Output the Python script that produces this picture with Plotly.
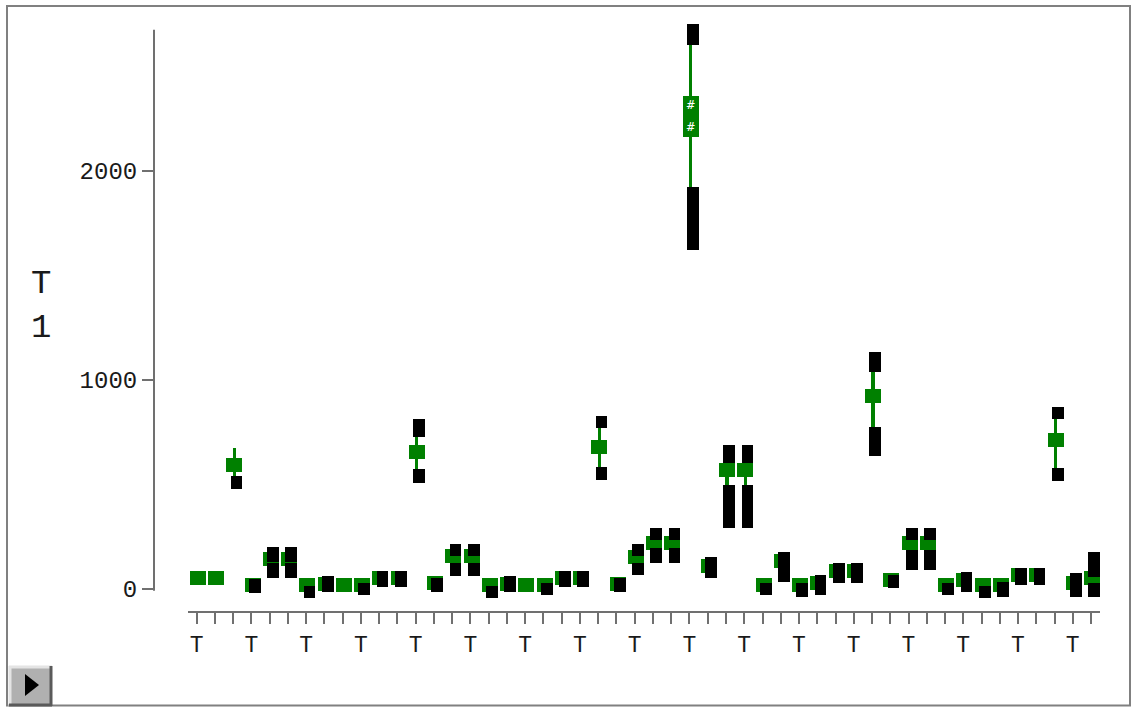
import plotly.graph_objects as go

# Category positions along the x axis and their tick labels
categories = list(range(50))
tick_text = ["T", "", "", "T", "", "", "T", "", "", "T", "", "", "T", "", "", "T", "", "",
             "T", "", "", "T", "", "", "T", "", "", "T", "", "", "T", "", "", "T", "", "",
             "T", "", "", "T", "", "", "T", "", "", "T", "", "", "T", ""]

# Mean of each category (green box)
means = [55, 55, 593, 17, 144, 144, 19, 26, 19, 19,
         55, 55, 655, 29, 158, 158, 19, 24, 17, 17,
         53, 53, 677, 26, 155, 218, 218, 2261, 108, 567,
         567, 19, 134, 19, 31, 84, 84, 923, 41, 218,
         218, 19, 43, 19, 19, 67, 67, 713, 29, 55]

# Spread bars (green whiskers): category -> (low, high)
spread = {2: (510, 675), 12: (545, 761), 22: (555, 799), 27: (1885, 2627),
          29: (474, 665), 30: (474, 665), 37: (751, 1072), 47: (550, 842)}

# Overlapping means on one category widen the box
mean_band = {27: (2163, 2359)}

# Individual observations (black squares)
points = [[], [], [510], [19, 10], [172, 158, 96, 81], [172, 158, 96, 81], [-14], [33, 14], [], [0],
          [57, 38], [57, 38], [785, 756, 545, 536], [24, 14], [187, 96, 91], [187, 96, 91], [-14], [33, 14], [], [0],
          [57, 38], [57, 38], [799, 553], [24, 14], [187, 96], [263, 167, 153], [263, 167, 153],
          [2675, 2632, 1895, 1842, 1789, 1737, 1684, 1651], [124, 81], [660, 632, 469, 416, 364, 321],
          [660, 632, 469, 416, 364, 321], [0], [148, 105, 62], [0, -10], [38, 0], [96, 57], [96, 57],
          [1105, 1067, 746, 708, 665], [36], [263, 158, 120],
          [263, 158, 120], [0], [53, 14], [-14], [5, -10], [72, 48], [72, 48], [842, 548], [48, -10],
          [148, 115, 86, 0, -10]]

GREEN = "#008000"
BOX_H = 67      # mean box height in data units
PT_H = 59       # observation square height in data units

fig = go.Figure()

# green whiskers
sx = list(spread.keys())
fig.add_trace(go.Bar(x=sx, base=[spread[k][0] for k in sx],
                     y=[spread[k][1] - spread[k][0] for k in sx],
                     width=0.18, offset=-0.03, marker=dict(color=GREEN, line=dict(width=0)),
                     showlegend=False, hoverinfo="skip"))

# green mean boxes
bb, bh = [], []
for k, m in zip(categories, means):
    if k in mean_band:
        lo, hi = mean_band[k]
    else:
        lo, hi = m - BOX_H / 2, m + BOX_H / 2
    bb.append(lo)
    bh.append(hi - lo)
fig.add_trace(go.Bar(x=categories, base=bb, y=bh, width=0.88, offset=-0.38,
                     marker=dict(color=GREEN, line=dict(width=0)),
                     showlegend=False, hoverinfo="skip"))

# black observation squares
px_, pb = [], []
for k, pts in zip(categories, points):
    for v in pts:
        px_.append(k)
        pb.append(v - PT_H / 2)
fig.add_trace(go.Bar(x=px_, base=pb, y=[PT_H] * len(px_), width=0.64, offset=-0.14,
                     marker=dict(color="black", line=dict(width=0)),
                     showlegend=False, hoverinfo="skip"))

# overlap marks inside the widened box
for k, (lo, hi) in mean_band.items():
    fig.add_trace(go.Scatter(x=[k + 0.06, k + 0.06], y=[lo + 0.75 * (hi - lo), lo + 0.22 * (hi - lo)],
                             mode="text", text=["#", "#"],
                             textfont=dict(color="white", size=13, family="DejaVu Sans Mono"),
                             showlegend=False, hoverinfo="skip"))

L, R, T, B = 154, 1110, 15, 612
W, H = R - L, B - T


def xp(px):
    return (px - L) / W


def yp(py):
    return (B - py) / H


shapes = [
    # outer frame
    dict(type="rect", xref="paper", yref="paper", x0=xp(7), x1=xp(1130), y0=yp(705.5), y1=yp(6),
         line=dict(color="#808080", width=2), fillcolor="rgba(0,0,0,0)", layer="below"),
    # y axis line
    dict(type="line", xref="paper", yref="y", x0=0, x1=0, y0=-8, y1=2675,
         line=dict(color="#707070", width=2)),
    # x axis line
    dict(type="line", xref="paper", yref="paper", x0=xp(188), x1=xp(1100), y0=0, y1=0,
         line=dict(color="#707070", width=2)),
    # play button
    dict(type="rect", xref="paper", yref="paper", x0=xp(9), x1=xp(52), y0=yp(706), y1=yp(666),
         line=dict(width=0), fillcolor="#b0b0b0"),
    dict(type="line", xref="paper", yref="paper", x0=xp(9), x1=xp(52), y0=yp(667), y1=yp(667),
         line=dict(color="#e4e4e4", width=3)),
    dict(type="line", xref="paper", yref="paper", x0=xp(10), x1=xp(10), y0=yp(706), y1=yp(666),
         line=dict(color="#e4e4e4", width=3)),
    dict(type="line", xref="paper", yref="paper", x0=xp(51), x1=xp(51), y0=yp(706), y1=yp(666),
         line=dict(color="#5a5a5a", width=3)),
    dict(type="line", xref="paper", yref="paper", x0=xp(9), x1=xp(52), y0=yp(705), y1=yp(705),
         line=dict(color="#5a5a5a", width=3)),
    dict(type="path", xref="paper", yref="paper",
         path=f"M {xp(25)} {yp(674)} L {xp(25)} {yp(696)} L {xp(39)} {yp(685)} Z",
         fillcolor="black", line=dict(width=0)),
]

fig.update_layout(
    width=1132, height=708,
    margin=dict(l=L, r=1132 - R, t=T, b=708 - B),
    paper_bgcolor="white", plot_bgcolor="white",
    barmode="overlay", bargap=0,
    showlegend=False,
    font=dict(family="Liberation Mono", color="#1a1a1a"),
    xaxis=dict(range=[-2.34, 50.04], tickmode="array", tickvals=categories, ticktext=tick_text,
               ticks="outside", ticklen=11, tickwidth=2, tickcolor="#707070",
               showgrid=False, zeroline=False, showline=False,
               tickfont=dict(size=23, family="Liberation Mono", color="#1a1a1a")),
    yaxis=dict(range=[-110, 2746], tickmode="array", tickvals=[0, 1000, 2000],
               ticktext=["0", "1000", "2000"],
               ticks="outside", ticklen=11, tickwidth=2, tickcolor="#707070",
               showgrid=False, zeroline=False, showline=False,
               tickfont=dict(size=24, family="Liberation Mono", color="#1a1a1a")),
    shapes=shapes,
    annotations=[dict(text="T<br>1", xref="paper", yref="paper", x=xp(41), y=yp(306),
                      xanchor="center", yanchor="middle", showarrow=False,
                      font=dict(size=34, family="Liberation Mono", color="#1a1a1a"))],
)

fig.write_html("out.html")
